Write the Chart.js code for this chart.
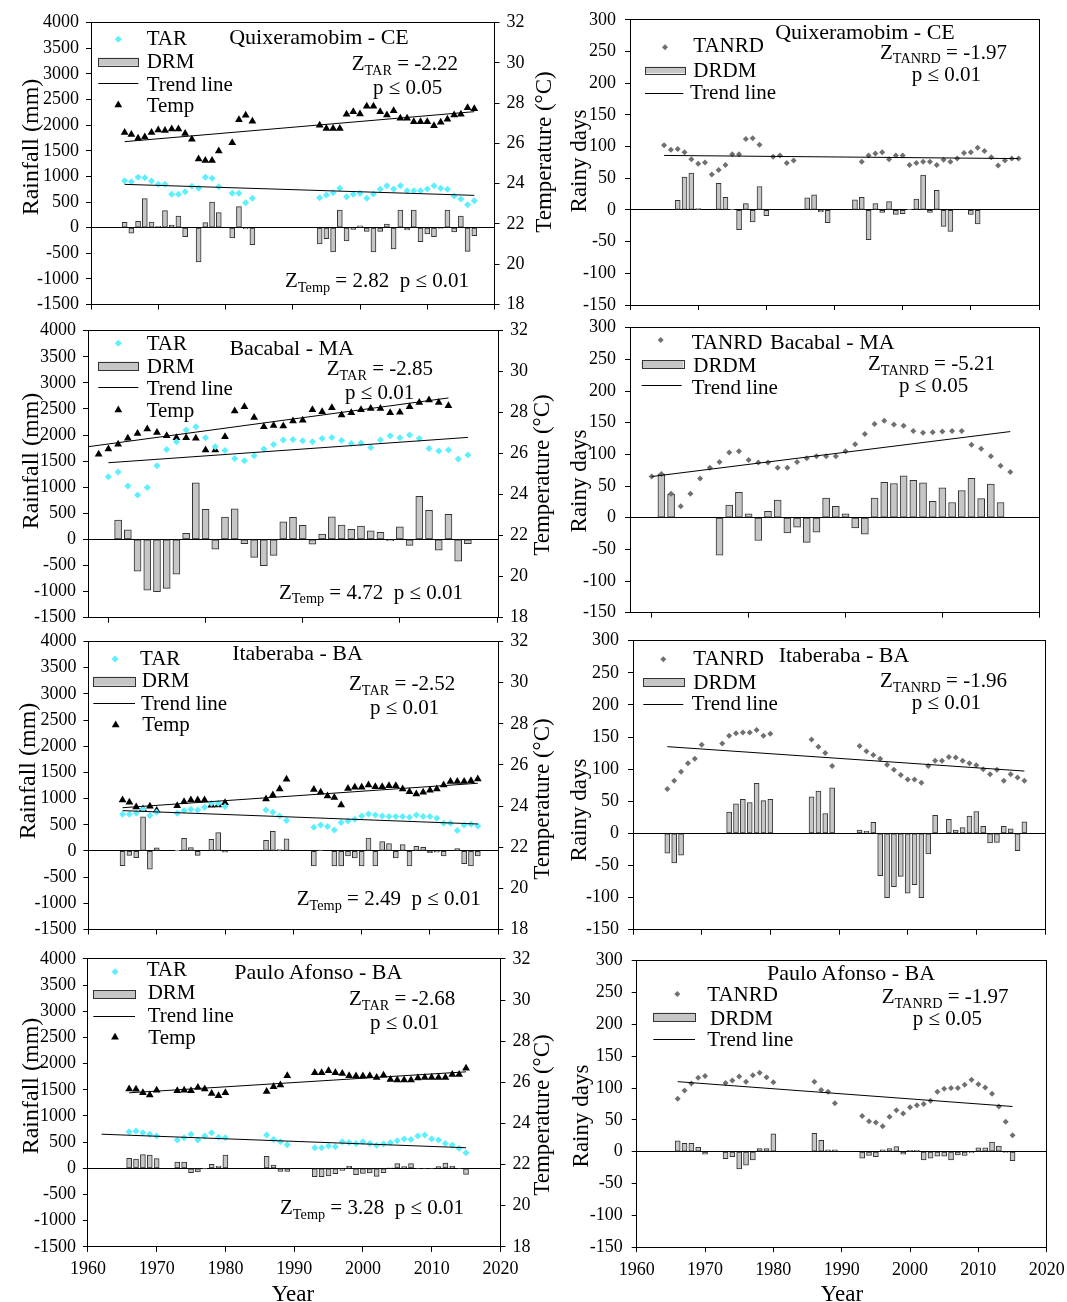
<!DOCTYPE html>
<html lang="en">
<head>
<meta charset="utf-8">
<title>Rainfall, temperature and rainy days trends</title>
<script src="https://cdn.jsdelivr.net/npm/chart.js@4.4.1/dist/chart.umd.min.js"></script>
<style>
  html, body { margin: 0; padding: 0; background: #fff; }
  body { position: relative; width: 1067px; height: 1302px; overflow: hidden;
         font-family: "Liberation Serif", "Times New Roman", serif; color: #000; }
  canvas.layer { position: absolute; left: 0; top: 0; }
  .txt  { position: absolute; white-space: pre; line-height: 1; transform: translateY(-50%); }
  .mid  { position: absolute; white-space: pre; line-height: 1; transform: translate(-50%, -50%); }
  .vert { position: absolute; white-space: pre; line-height: 1; transform: translate(-50%, -50%) rotate(-90deg); }
  .sub  { font-size: 0.68em; position: relative; top: 0.32em; }
</style>
</head>
<body>
<script>
// ---------------- axis ticks ----------------
const decadeTicks = [1960, 1970, 1980, 1990, 2000, 2010, 2020];
const bacaTicks = [1970, 1980, 1990, 2000, 2010];

// ---------------- Quixeramobim - CE ----------------
const quixYears = [1965,1966,1967,1968,1969,1970,1971,1972,1973,1974,1975,1976,1977,1978,1979,1981,1982,1983,1984,1994,1995,1996,1997,1998,1999,2000,2001,2002,2003,2004,2005,2006,2007,2008,2009,2010,2011,2012,2013,2014,2015,2016,2017];
const quixTAR = [917,897,982,975,910,845,845,650,650,702,806,767,982,962,800,670,670,488,572,585,637,683,767,604,650,670,572,657,748,819,754,819,722,722,722,754,819,767,748,617,559,449,527];
const quixTemp = [26.55,26.45,26.26,26.32,26.54,26.67,26.65,26.72,26.72,26.50,26.21,25.23,25.15,25.15,25.63,26.04,27.18,27.40,27.10,26.90,26.75,26.75,26.75,27.45,27.58,27.47,27.85,27.85,27.58,27.42,27.63,27.25,27.25,27.08,27.08,27.08,26.88,27.05,27.20,27.42,27.45,27.78,27.72];
const quixDRM = [104,-110,124,566,110,26,332,52,228,-176,null,-670,98,501,293,-202,410,-26,-332,-319,-215,-475,345,-260,-33,33,-72,-475,-72,72,-416,345,-46,345,-273,-124,-176,-13,345,-85,228,-462,-156];
const quixTANRD = [102,95,96,91,80,73,75,56,63,71,88,88,112,113,103,84,86,74,78,76,86,89,91,80,86,86,71,74,76,76,71,79,76,81,90,91,98,93,83,70,78,81,81];
const quixDRDMYears = [1967,1968,1969,1970,1973,1974,1975,1976,1977,1978,1979,1980,1986,1987,1988,1989,1993,1994,1995,1996,1997,1998,1999,2000,2001,2002,2003,2004,2005,2006,2007,2010,2011];
const quixDRDM = [15,52,58,2,42,20,1,-31,10,-19,37,-9,19,24,-3,-20,16,20,-47,10,-4,13,-7,-6,1,17,55,-4,31,-26,-34,-7,-22];
const quixTrendYears = [1965, 2017];
const quixTARTrend = [845, 630];
const quixTempTrend = [26.09, 27.58];
const quixTANRDTrend = [86, 81];

// ---------------- Bacabal - MA ----------------
const bacaTempYears = [1969,1970,1971,1972,1973,1974,1975,1976,1977,1978,1979,1980,1981,1982,1983,1984,1985,1986,1987,1988,1989,1990,1991,1992,1993,1994,1995,1996,1997,1998,1999,2000,2001,2002,2003,2004,2005];
const bacaTemp = [25.97,26.23,26.46,26.75,26.99,27.20,27.04,26.88,26.78,26.78,26.75,26.18,26.18,26.83,28.08,28.29,27.77,27.32,27.37,27.35,27.59,27.63,28.15,28.05,28.24,27.89,28.00,28.15,28.21,28.21,28.00,28.02,28.29,28.50,28.62,28.50,28.34];
const bacaYears = [1970,1971,1972,1973,1974,1975,1976,1977,1978,1979,1980,1981,1982,1983,1984,1985,1986,1987,1988,1989,1990,1991,1992,1993,1994,1995,1996,1997,1998,1999,2000,2001,2002,2003,2004,2005,2006,2007];
const bacaTAR = [1201,1291,1022,850,997,1412,1725,1872,2096,2160,1949,1776,1706,1553,1508,1604,1732,1821,1904,1917,1891,1872,1936,1955,1898,1840,1847,1764,1904,1987,1949,2000,1936,1744,1693,1712,1540,1617];
const bacaTANRD = [65,69,38,18,38,62,79,88,103,105,91,87,87,79,79,88,94,97,97,97,105,116,132,148,153,147,145,137,134,135,136,137,137,115,109,97,82,72];
const bacaDRMYears = [1971,1972,1973,1974,1975,1976,1977,1978,1979,1980,1981,1982,1983,1984,1985,1986,1987,1988,1989,1990,1991,1992,1993,1994,1995,1996,1997,1998,1999,2000,2001,2002,2003,2004,2005,2006,2007];
const bacaDRM = [371,185,-607,-971,-1003,-939,-665,115,1086,575,-185,428,588,-83,-345,-505,-307,339,422,268,-89,102,435,275,192,256,166,134,-26,243,-115,824,556,-204,479,-415,-83];
const bacaDRDMYears = [1971,1972,1977,1978,1979,1980,1981,1982,1983,1984,1985,1986,1987,1988,1989,1990,1991,1992,1993,1994,1995,1996,1997,1998,1999,2000,2001,2002,2003,2004,2005,2006];
const bacaDRDM = [69,37,-59,20,40,6,-36,10,28,-24,-15,-39,-23,31,18,6,-16,-26,31,56,54,66,59,55,26,47,24,43,62,30,53,24];
const bacaTrendYears = [1970, 2007];
const bacaTARTrend = [1470, 1955];
const bacaTempTrendYears = [1967.9, 2005];
const bacaTempTrend = [26.34, 28.72];
const bacaTANRDTrend = [65, 136];

// ---------------- Itaberaba - BA ----------------
const itabYears = [1965,1966,1967,1968,1969,1970,1973,1974,1975,1976,1977,1978,1979,1980,1986,1987,1988,1989,1993,1994,1995,1996,1997,1998,1999,2000,2001,2002,2003,2004,2005,2006,2007,2008,2009,2010,2011,2012,2013,2014,2015,2016,2017];
const itabTAR = [700,700,720,797,676,739,720,771,797,784,835,911,911,848,784,739,669,580,453,497,465,402,542,574,606,669,707,688,669,656,656,656,644,688,656,656,624,529,529,389,497,510,478];
const itabTemp = [24.29,24.18,23.95,23.86,23.99,23.78,24.02,24.21,24.29,24.29,24.29,24.04,24.05,24.16,24.34,24.54,24.83,25.30,24.81,24.67,24.49,24.42,24.05,24.86,24.91,24.91,25.02,24.94,24.94,24.99,24.99,24.83,24.70,24.59,24.67,24.77,24.83,25.02,25.19,25.19,25.19,25.23,25.31];
const itabDRM = [-282,-85,-130,650,-350,62,5,240,64,-83,null,223,350,-25,204,376,25,230,-286,19,null,-286,-286,-95,-134,-286,248,-286,178,140,-134,121,-286,89,70,-32,-25,-95,null,45,-242,-286,-95];
const itabTANRD = [69,82,96,109,116,138,140,152,156,157,157,161,152,155,146,135,125,105,136,128,122,116,107,99,91,84,84,79,105,113,113,119,118,113,109,106,100,92,99,82,92,87,82];
const itabDRDMYears = [1965,1966,1967,1974,1975,1976,1977,1978,1979,1980,1986,1987,1988,1989,1993,1994,1995,1996,1997,1998,1999,2000,2001,2002,2003,2004,2005,2006,2007,2008,2009,2010,2011,2012,2013,2014,2015,2016,2017];
const itabDRDM = [-31,-46,-34,33,46,53,48,78,51,53,57,66,31,71,5,3,17,-66,-100,-83,-67,-93,-80,-100,-32,28,0,22,5,9,27,34,11,-15,-14,11,7,-27,18];
const itabTrendYears = [1965, 2017];
const itabTARTrend = [770, 515];
const itabTempTrend = [23.92, 25.11];
const itabTANRDTrend = [135, 97];

// ---------------- Paulo Afonso - BA ----------------
const pauloYears = [1966,1967,1968,1969,1970,1973,1974,1975,1976,1977,1978,1979,1980,1986,1987,1988,1989,1993,1994,1995,1996,1997,1998,1999,2000,2001,2002,2003,2004,2005,2006,2007,2008,2009,2010,2011,2012,2013,2014,2015];
const pauloTAR = [700,713,681,649,617,541,585,649,541,617,681,592,585,636,553,508,451,394,394,426,413,508,496,477,508,477,439,464,490,528,560,553,617,636,560,541,477,445,382,299];
const pauloTemp = [25.67,25.66,25.49,25.38,25.62,25.59,25.62,25.59,25.75,25.67,25.46,25.35,25.49,25.56,25.79,25.87,26.32,26.47,26.47,26.56,26.47,26.43,26.32,26.31,26.31,26.32,26.24,26.35,26.14,26.11,26.11,26.11,26.21,26.24,26.24,26.24,26.24,26.38,26.38,26.68];
const pauloDRM = [191,178,261,255,185,121,121,-83,-70,-6,76,45,255,229,64,-57,-57,-159,-159,-146,-102,-38,38,-121,-95,-89,-153,-83,10,89,32,89,-10,-10,-10,32,102,38,-10,-115];
const pauloTANRD = [83,96,107,116,119,108,112,118,110,120,124,117,109,110,97,94,76,56,48,46,40,55,65,60,70,73,75,80,94,99,100,100,105,113,106,101,91,71,47,26];
const pauloDRDM = [17,13,13,7,-4,-11,-8,-27,-21,-13,5,5,28,29,18,3,3,-10,-6,-8,3,5,8,-4,2,2,-13,-10,-7,-7,-13,-5,-6,-2,6,6,15,9,-1,-14];
const pauloTARTrendYears = [1962, 2015];
const pauloTARTrend = [652, 394];
const pauloTrendYears = [1966, 2015];
const pauloTempTrend = [25.49, 26.51];
const pauloTANRDTrend = [110, 71];

// ---------------- styling ----------------
const CW = 1100, CH = 1302;
const TAR_COLOR = '#5cf0ff';
const TANRD_COLOR = '#707070';
const BAR_FILL = '#c6c6c6';
const BAR_EDGE = '#333333';
const Y_AXIS_W = 60, Y2_AXIS_W = 45, X_AXIS_H = 40;

Chart.defaults.font.family = '"Liberation Serif", "Times New Roman", serif';
Chart.defaults.font.size = 18;
Chart.defaults.color = '#000';

const pts = (xs, ys) => xs.map((x, i) => ({ x, y: ys[i] }));

function barSet(xs, ys, w) {
  return { type: 'bar', data: pts(xs, ys), backgroundColor: BAR_FILL, borderColor: BAR_EDGE,
           borderWidth: 1, borderSkipped: false, barThickness: w, order: 3, yAxisID: 'y' };
}
function markSet(xs, ys, style, r, color, axis) {
  return { type: 'scatter', data: pts(xs, ys), pointStyle: style, pointRadius: r,
           pointBackgroundColor: color, pointBorderColor: color, pointBorderWidth: 0,
           order: 2, yAxisID: axis };
}
function trendSet(xs, ys, axis) {
  return { type: 'line', data: pts(xs, ys), borderColor: '#000', borderWidth: 1,
           pointRadius: 0, showLine: true, fill: false, order: 1, yAxisID: axis };
}

const al = p => Math.round(p - 0.5) + 0.5;

function framePlugin(keys) {
  return {
    id: 'frameKeys',
    beforeDatasetsDraw(chart) {
      const { ctx, chartArea: a } = chart;
      const y0 = al(chart.scales.y.getPixelForValue(0));
      ctx.save();
      ctx.strokeStyle = '#000'; ctx.lineWidth = 1;
      ctx.beginPath(); ctx.moveTo(a.left, y0); ctx.lineTo(a.right, y0); ctx.stroke();
      ctx.restore();
    },
    afterDraw(chart) {
      const { ctx, chartArea: a } = chart;
      ctx.save();
      ctx.strokeStyle = '#000'; ctx.lineWidth = 1;
      const L = al(a.left), R = al(a.right), T = al(a.top), B = al(a.bottom);
      ctx.strokeRect(L, T, R - L, B - T);
      keys.forEach(k => {
        ctx.beginPath();
        if (k.t === 'diamond') {
          ctx.moveTo(k.x, k.y - k.r); ctx.lineTo(k.x + k.r, k.y);
          ctx.lineTo(k.x, k.y + k.r); ctx.lineTo(k.x - k.r, k.y); ctx.closePath();
          ctx.fillStyle = k.c; ctx.fill();
        } else if (k.t === 'tri') {
          ctx.moveTo(k.x, k.y - k.r);
          ctx.lineTo(k.x + 0.866 * k.r, k.y + 0.5 * k.r);
          ctx.lineTo(k.x - 0.866 * k.r, k.y + 0.5 * k.r); ctx.closePath();
          ctx.fillStyle = '#000'; ctx.fill();
        } else if (k.t === 'bar') {
          ctx.fillStyle = BAR_FILL;
          ctx.fillRect(k.x0, k.y0, k.x1 - k.x0, k.y1 - k.y0);
          ctx.strokeStyle = BAR_EDGE;
          ctx.strokeRect(Math.round(k.x0) + 0.5, Math.round(k.y0) + 0.5, Math.round(k.x1 - k.x0), Math.round(k.y1 - k.y0));
        } else if (k.t === 'line') {
          ctx.strokeStyle = '#000';
          ctx.moveTo(k.x0, al(k.y)); ctx.lineTo(k.x1, al(k.y)); ctx.stroke();
        }
      });
      ctx.restore();
    }
  };
}

function makePanel(p) {
  const cv = document.createElement('canvas');
  cv.className = 'layer';
  cv.width = CW; cv.height = CH;
  cv.style.width = CW + 'px'; cv.style.height = CH + 'px';
  document.body.appendChild(cv);

  const hasY2 = p.kind === 'rain';
  const scales = {
    x: {
      type: 'linear', min: p.xr[0], max: p.xr[1], offset: false,
      grid: { offset: false, drawOnChartArea: false, drawTicks: true, tickLength: 5, color: '#000' },
      border: { display: true, color: '#000', width: 1 },
      ticks: { display: p.xLabels, padding: 7, autoSkip: false, maxRotation: 0, callback: v => String(v) },
      afterBuildTicks: s => { s.ticks = p.xTicks.map(v => ({ value: v })); },
      afterFit: s => { s.height = X_AXIS_H; }
    },
    y: {
      type: 'linear', position: 'left',
      min: hasY2 ? -1500 : -150, max: hasY2 ? 4000 : 300,
      grid: { drawOnChartArea: false, drawTicks: true, tickLength: 5, color: '#000' },
      border: { display: true, color: '#000', width: 1 },
      ticks: { stepSize: hasY2 ? 500 : 50, padding: hasY2 ? 7 : 9, autoSkip: false, callback: v => String(v) },
      afterFit: s => { s.width = Y_AXIS_W; }
    }
  };
  if (hasY2) {
    scales.y2 = {
      type: 'linear', position: 'right', min: 18, max: 32,
      grid: { drawOnChartArea: false, drawTicks: true, tickLength: 5, color: '#000' },
      border: { display: true, color: '#000', width: 1 },
      ticks: { stepSize: 2, padding: 7, autoSkip: false, callback: v => String(v) },
      afterFit: s => { s.width = Y2_AXIS_W; }
    };
  }

  new Chart(cv, {
    type: 'scatter',
    data: { datasets: p.datasets },
    options: {
      responsive: false, animation: false, devicePixelRatio: 1,
      layout: { padding: {
        left: p.box.l - Y_AXIS_W,
        top: p.box.t,
        right: CW - p.box.r - (hasY2 ? Y2_AXIS_W : 0),
        bottom: CH - p.box.b - X_AXIS_H
      } },
      plugins: { legend: { display: false }, tooltip: { enabled: false } },
      scales
    },
    plugins: [framePlugin(p.keys)]
  });
  p.texts.forEach(t => put(t[0], t[1], t[2], t[3], t[4]));
}

function put(cls, html, x, y, size) {
  const d = document.createElement('div');
  d.className = cls;
  d.innerHTML = html;
  d.style.left = x + 'px';
  d.style.top = y + 'px';
  d.style.fontSize = size + 'px';
  document.body.appendChild(d);
}

const Z = (sub, rest) => 'Z<span class="sub">' + sub + '</span>' + rest;

function rainKeys(d, b, l, t) {
  return [
    { t: 'diamond', x: d[0], y: d[1], r: 3.5, c: TAR_COLOR },
    { t: 'bar', x0: b[0], x1: b[1], y0: b[2], y1: b[3] },
    { t: 'line', x0: l[0], x1: l[1], y: l[2] },
    { t: 'tri', x: t[0], y: t[1], r: 4.5 }
  ];
}
function daysKeys(d, b, l) {
  return [
    { t: 'diamond', x: d[0], y: d[1], r: 3, c: TANRD_COLOR },
    { t: 'bar', x0: b[0], x1: b[1], y0: b[2], y1: b[3] },
    { t: 'line', x0: l[0], x1: l[1], y: l[2] }
  ];
}

// ---------------- rainfall / temperature panels ----------------
makePanel({
  kind: 'rain', box: { l: 91, r: 494.5, t: 22.7, b: 304.5 },
  xr: [1960, 2020], xTicks: decadeTicks, xLabels: false,
  datasets: [
    barSet(quixYears, quixDRM, 5),
    markSet(quixYears, quixTAR, 'rectRot', 3.5, TAR_COLOR, 'y'),
    markSet(quixYears, quixTemp, 'triangle', 4.5, '#000', 'y2'),
    trendSet(quixTrendYears, quixTARTrend, 'y'),
    trendSet(quixTrendYears, quixTempTrend, 'y2')
  ],
  keys: rainKeys([118.3, 39.3], [98.3, 138.3, 57.7, 65.7], [98.3, 138.3, 83.3], [118.3, 105]),
  texts: [
    ['mid', 'Quixeramobim - CE', 319, 36.7, 22],
    ['txt', 'TAR', 146.7, 37.7, 21], ['txt', 'DRM', 146.7, 61, 21],
    ['txt', 'Trend line', 146.7, 84.3, 21], ['txt', 'Temp', 146.7, 105, 21],
    ['txt', Z('TAR', ' = -2.22'), 351.7, 63.3, 21], ['txt', 'p ≤ 0.05', 373, 86.7, 21],
    ['txt', Z('Temp', ' = 2.82  p ≤ 0.01'), 285, 280, 21]
  ]
});

makePanel({
  kind: 'rain', box: { l: 88, r: 498, t: 330.7, b: 617.7 },
  xr: [1967.9, 2010.1], xTicks: bacaTicks, xLabels: false,
  datasets: [
    barSet(bacaDRMYears, bacaDRM, 7),
    markSet(bacaYears, bacaTAR, 'rectRot', 3.5, TAR_COLOR, 'y'),
    markSet(bacaTempYears, bacaTemp, 'triangle', 4.5, '#000', 'y2'),
    trendSet(bacaTrendYears, bacaTARTrend, 'y'),
    trendSet(bacaTempTrendYears, bacaTempTrend, 'y2')
  ],
  keys: rainKeys([118.3, 343.3], [98.3, 138.3, 361.7, 370], [98.3, 138.3, 387.7], [118.3, 410]),
  texts: [
    ['mid', 'Bacabal - MA', 291.7, 347.7, 22],
    ['txt', 'TAR', 146.7, 343.3, 21], ['txt', 'DRM', 146.7, 365.7, 21],
    ['txt', 'Trend line', 146.7, 388.3, 21], ['txt', 'Temp', 146.7, 410, 21],
    ['txt', Z('TAR', ' = -2.85'), 326.7, 368.3, 21], ['txt', 'p ≤ 0.01', 345, 391.7, 21],
    ['txt', Z('Temp', ' = 4.72  p ≤ 0.01'), 279, 591.7, 21]
  ]
});

makePanel({
  kind: 'rain', box: { l: 88.4, r: 498.3, t: 641.5, b: 929.5 },
  xr: [1960, 2020], xTicks: decadeTicks, xLabels: false,
  datasets: [
    barSet(itabYears, itabDRM, 5),
    markSet(itabYears, itabTAR, 'rectRot', 3.5, TAR_COLOR, 'y'),
    markSet(itabYears, itabTemp, 'triangle', 4.5, '#000', 'y2'),
    trendSet(itabTrendYears, itabTARTrend, 'y'),
    trendSet(itabTrendYears, itabTempTrend, 'y2')
  ],
  keys: rainKeys([115, 659], [93.3, 135.7, 676.7, 685.7], [93.3, 135, 703.3], [115.7, 725]),
  texts: [
    ['mid', 'Itaberaba - BA', 297.5, 653.3, 22],
    ['txt', 'TAR', 140, 657.7, 21], ['txt', 'DRM', 141.7, 680, 21],
    ['txt', 'Trend line', 141, 703.3, 21], ['txt', 'Temp', 142.3, 724.3, 21],
    ['txt', Z('TAR', ' = -2.52'), 349, 683.3, 21], ['txt', 'p ≤ 0.01', 370, 706.7, 21],
    ['txt', Z('Temp', ' = 2.49  p ≤ 0.01'), 296.7, 898.3, 21]
  ]
});

makePanel({
  kind: 'rain', box: { l: 87.9, r: 500.4, t: 958.9, b: 1246.9 },
  xr: [1960, 2020], xTicks: decadeTicks, xLabels: true,
  datasets: [
    barSet(pauloYears, pauloDRM, 5),
    markSet(pauloYears, pauloTAR, 'rectRot', 3.5, TAR_COLOR, 'y'),
    markSet(pauloYears, pauloTemp, 'triangle', 4.5, '#000', 'y2'),
    trendSet(pauloTARTrendYears, pauloTARTrend, 'y'),
    trendSet(pauloTrendYears, pauloTempTrend, 'y2')
  ],
  keys: rainKeys([115, 971.7], [93.3, 135.7, 990, 998.3], [93.3, 135, 1016.7], [115, 1037.3]),
  texts: [
    ['mid', 'Paulo Afonso - BA', 318.3, 971.7, 22],
    ['txt', 'TAR', 146.7, 969.3, 21], ['txt', 'DRM', 147.7, 991.7, 21],
    ['txt', 'Trend line', 147.7, 1015, 21], ['txt', 'Temp', 148.3, 1036.7, 21],
    ['txt', Z('TAR', ' = -2.68'), 349, 998.3, 21], ['txt', 'p ≤ 0.01', 370, 1021.7, 21],
    ['txt', Z('Temp', ' = 3.28  p ≤ 0.01'), 280, 1207.3, 21]
  ]
});

// ---------------- rainy days panels ----------------
makePanel({
  kind: 'days', box: { l: 630, r: 1039, t: 18.3, b: 305 },
  xr: [1960, 2020], xTicks: decadeTicks, xLabels: false,
  datasets: [
    barSet(quixDRDMYears, quixDRDM, 5),
    markSet(quixYears, quixTANRD, 'rectRot', 3, TANRD_COLOR, 'y'),
    trendSet(quixTrendYears, quixTANRDTrend, 'y')
  ],
  keys: daysKeys([665, 47.3], [645, 685, 66.7, 73.3], [645, 683.3, 93.3]),
  texts: [
    ['mid', 'Quixeramobim - CE', 865, 31.7, 22],
    ['txt', 'TANRD', 693.3, 45, 21], ['txt', 'DRDM', 693.3, 70, 21], ['txt', 'Trend line', 690, 91.7, 21],
    ['txt', Z('TANRD', ' = -1.97'), 880, 51.7, 21], ['txt', 'p ≤ 0.01', 911.7, 74.3, 21]
  ]
});

makePanel({
  kind: 'days', box: { l: 630, r: 1039.3, t: 327.7, b: 612.7 },
  xr: [1967.76, 2010], xTicks: bacaTicks, xLabels: false,
  datasets: [
    barSet(bacaDRDMYears, bacaDRDM, 7),
    markSet(bacaYears, bacaTANRD, 'rectRot', 3, TANRD_COLOR, 'y'),
    trendSet(bacaTrendYears, bacaTANRDTrend, 'y')
  ],
  keys: daysKeys([660.7, 340], [641.7, 683.3, 360, 368.3], [641.7, 681.7, 385]),
  texts: [
    ['txt', 'Bacabal - MA', 770, 341.7, 22],
    ['txt', 'TANRD', 691.7, 341.7, 21], ['txt', 'DRDM', 693.3, 365, 21], ['txt', 'Trend line', 691.7, 386.7, 21],
    ['txt', Z('TANRD', ' = -5.21'), 868, 363.3, 21], ['txt', 'p ≤ 0.05', 899, 385, 21]
  ]
});

makePanel({
  kind: 'days', box: { l: 633, r: 1045, t: 640.7, b: 929.7 },
  xr: [1960, 2020], xTicks: decadeTicks, xLabels: false,
  datasets: [
    barSet(itabDRDMYears, itabDRDM, 5),
    markSet(itabYears, itabTANRD, 'rectRot', 3, TANRD_COLOR, 'y'),
    trendSet(itabTrendYears, itabTANRDTrend, 'y')
  ],
  keys: daysKeys([663.3, 659.3], [643.3, 684, 678.3, 686.7], [643.3, 683.3, 704.3]),
  texts: [
    ['mid', 'Itaberaba - BA', 844, 655, 22],
    ['txt', 'TANRD', 693.3, 658.3, 21], ['txt', 'DRDM', 693.3, 681.7, 21], ['txt', 'Trend line', 691.7, 703.3, 21],
    ['txt', Z('TANRD', ' = -1.96'), 880, 680, 21], ['txt', 'p ≤ 0.01', 911.7, 701.7, 21]
  ]
});

makePanel({
  kind: 'days', box: { l: 636.7, r: 1046.7, t: 960.7, b: 1247.2 },
  xr: [1960, 2020], xTicks: decadeTicks, xLabels: true,
  datasets: [
    barSet(pauloYears, pauloDRDM, 5),
    markSet(pauloYears, pauloTANRD, 'rectRot', 3, TANRD_COLOR, 'y'),
    trendSet(pauloTrendYears, pauloTANRDTrend, 'y')
  ],
  keys: daysKeys([677.3, 994], [653.3, 695, 1012.7, 1021], [653.3, 695, 1039.3]),
  texts: [
    ['mid', 'Paulo Afonso - BA', 851, 973.3, 22],
    ['txt', 'TANRD', 707.3, 994, 21], ['txt', 'DRDM', 710, 1018.3, 21], ['txt', 'Trend line', 707.3, 1039.3, 21],
    ['txt', Z('TANRD', ' = -1.97'), 881.7, 996, 21], ['txt', 'p ≤ 0.05', 912.7, 1018.3, 21]
  ]
});

// ---------------- axis titles ----------------
[[29.5, 147], [29.5, 461], [27, 771], [29.5, 1086]].forEach(c => put('vert', 'Rainfall (mm)', c[0], c[1], 24));
[[543, 152], [541, 475], [541, 799], [541, 1115]].forEach(c => put('vert', 'Temperature (°C)', c[0], c[1], 23));
[[577.5, 161], [577.5, 481], [577.5, 810], [580, 1116]].forEach(c => put('vert', 'Rainy days', c[0], c[1], 23));
put('mid', 'Year', 293, 1293, 23);
put('mid', 'Year', 842, 1293, 23);
</script>
</body>
</html>
